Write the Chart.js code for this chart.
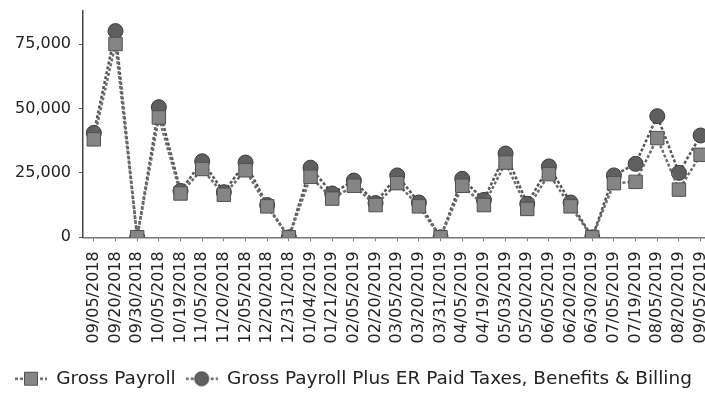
<!doctype html>
<html lang="en">
<head>
    <meta charset="utf-8" />
    <title>Gross Payroll</title>
    <script src="https://cdn.jsdelivr.net/npm/chart.js@4.4.1/dist/chart.umd.min.js"></script>
    <style>
        html, body {
            margin: 0;
            padding: 0;
            background: #fff;
            overflow: hidden;
        }
        #wrap {
            width: 730px;
            height: 404px;
        }
    </style>
</head>
<body>
    <div id="wrap">
        <canvas id="myChart" width="730" height="404"></canvas>
    </div>

    <script>
        const payDates = [
            '09/05/2018', '09/20/2018', '09/30/2018', '10/05/2018', '10/19/2018',
            '11/05/2018', '11/20/2018', '12/05/2018', '12/20/2018', '12/31/2018',
            '01/04/2019', '01/21/2019', '02/05/2019', '02/20/2019', '03/05/2019',
            '03/20/2019', '03/31/2019', '04/05/2019', '04/19/2019', '05/03/2019',
            '05/20/2019', '06/05/2019', '06/20/2019', '06/30/2019', '07/05/2019',
            '07/19/2019', '08/05/2019', '08/20/2019', '09/05/2019'
        ];

        const grossPayroll = [
            38000, 75000, 0, 46500, 17000, 26500, 16500, 26000, 12000, 0,
            23500, 15000, 20000, 12500, 21000, 12000, 0, 20000, 12500, 29000,
            11000, 24500, 12000, 0, 21000, 21500, 38500, 18500, 32000
        ];

        const grossPlusTaxes = [
            40500, 80000, 0, 50500, 18000, 29500, 17500, 29000, 12500, 0,
            27000, 17000, 22000, 13300, 24000, 13500, 0, 22700, 14500, 32500,
            13000, 27500, 13500, 0, 24000, 28500, 47000, 25000, 39500
        ];

        const yTicks = [0, 25000, 50000, 75000];

        const seriesNames = ['Gross Payroll', 'Gross Payroll Plus ER Paid Taxes, Benefits & Billing'];

        // small line + marker picture for the legend
        function legendIcon(shape, fill, stroke) {
            const c = document.createElement('canvas');
            c.width = 32;
            c.height = 16;
            const g = c.getContext('2d');
            g.strokeStyle = '#666';
            g.lineWidth = 2.5;
            g.setLineDash([3, 2]);
            g.beginPath();
            g.moveTo(0, 8);
            g.lineTo(32, 8);
            g.stroke();
            g.setLineDash([]);
            g.fillStyle = fill;
            g.strokeStyle = stroke;
            g.lineWidth = 1;
            g.beginPath();
            if (shape === 'rect') {
                g.rect(9.5, 1.5, 13, 13);
            } else {
                g.arc(16, 8, 7, 0, Math.PI * 2);
            }
            g.fill();
            g.stroke();
            return c;
        }

        const icons = [
            legendIcon('rect', '#858585', '#505050'),
            legendIcon('circle', '#5f5f5f', '#3a3a3a')
        ];

        const ctx = document.getElementById('myChart').getContext('2d');
        const myChart = new Chart(ctx, {
            type: 'line',
            data: {
                labels: payDates,
                datasets: [{
                    label: seriesNames[0],
                    data: grossPayroll,
                    borderColor: '#6c6c6c',
                    borderWidth: 2.5,
                    borderDash: [3, 2],
                    pointStyle: 'rect',
                    pointRadius: 9.5,
                    pointBackgroundColor: '#858585',
                    pointBorderColor: '#505050',
                    pointBorderWidth: 1,
                    tension: 0
                }, {
                    label: seriesNames[1],
                    data: grossPlusTaxes,
                    borderColor: '#555',
                    borderWidth: 2.5,
                    borderDash: [3, 2],
                    pointStyle: 'circle',
                    pointRadius: 7.5,
                    pointBackgroundColor: '#5f5f5f',
                    pointBorderColor: '#3a3a3a',
                    pointBorderWidth: 1,
                    tension: 0
                }]
            },
            options: {
                responsive: false,
                animation: false,
                layout: {
                    padding: { top: 10, left: 5, right: 2, bottom: 6 }
                },
                scales: {
                    x: {
                        offset: true,
                        afterFit: function (scale) {
                            scale.height += 6;
                        },
                        grid: {
                            drawOnChartArea: false,
                            drawTicks: true,
                            tickLength: 4,
                            color: '#777'
                        },
                        border: {
                            color: '#777',
                            width: 1.5,
                            dash: [4, 3]
                        },
                        ticks: {
                            autoSkip: false,
                            maxRotation: 90,
                            minRotation: 90,
                            padding: 10,
                            color: '#222',
                            font: { family: 'DejaVu Sans', size: 16 }
                        }
                    },
                    y: {
                        min: 0,
                        max: 88000,
                        afterBuildTicks: function (scale) {
                            scale.ticks = yTicks.map(v => ({ value: v }));
                        },
                        afterFit: function (scale) {
                            scale.width = 78;
                            scale.paddingTop = 0;
                            scale.paddingBottom = 0;
                        },
                        grid: {
                            drawOnChartArea: false,
                            drawTicks: true,
                            tickLength: 4,
                            color: '#555'
                        },
                        border: {
                            color: '#444',
                            width: 1.5
                        },
                        ticks: {
                            padding: 8,
                            color: '#222',
                            font: { family: 'DejaVu Sans', size: 16 },
                            callback: v => v.toLocaleString('en-US')
                        }
                    }
                },
                plugins: {
                    legend: {
                        position: 'bottom',
                        align: 'start',
                        labels: {
                            usePointStyle: true,
                            pointStyleWidth: 32,
                            padding: 10,
                            color: '#222',
                            font: { family: 'DejaVu Sans', size: 18.5 },
                            generateLabels: function (chart) {
                                const items = Chart.defaults.plugins.legend.labels.generateLabels(chart);
                                items.forEach((item, i) => {
                                    item.pointStyle = icons[i];
                                });
                                return items;
                            }
                        }
                    },
                    tooltip: { enabled: false }
                }
            }
        });
    </script>
</body>
</html>
